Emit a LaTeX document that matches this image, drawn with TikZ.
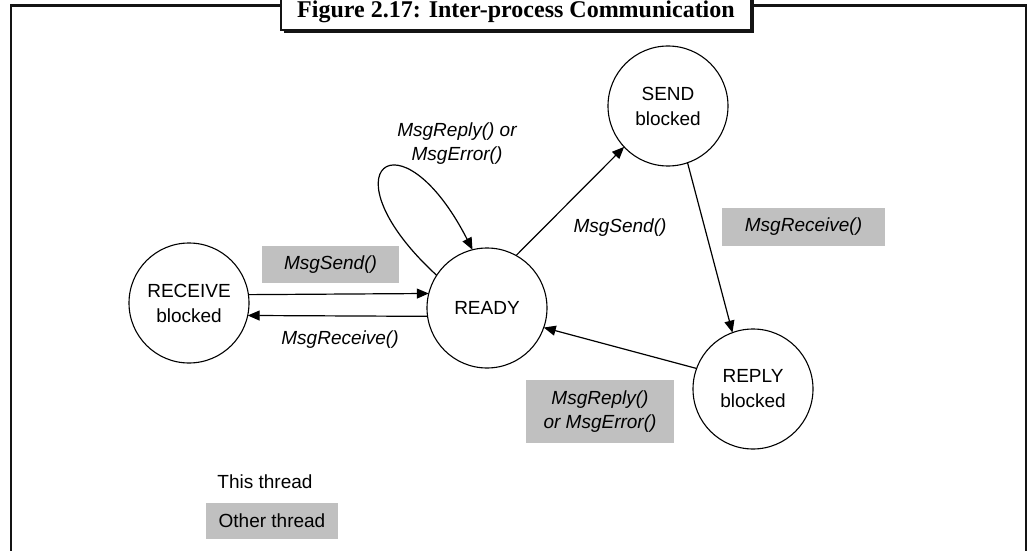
\documentclass[tikz,border=0pt]{standalone}
\usepackage{fontspec}
\setmainfont{Liberation Sans}
\newfontfamily\captionserif{Liberation Serif}
\usetikzlibrary{arrows.meta}
\definecolor{othergray}{RGB}{192,192,192}
\definecolor{framegray}{RGB}{20,20,20}

\begin{document}
\begin{tikzpicture}[x=1pt,y=-1pt,
  state/.style={circle,draw,line width=1.1pt,minimum size=120pt,inner sep=0pt,
    outer sep=0pt,align=center,font=\fontsize{19}{25}\selectfont},
  call/.style={font=\fontsize{19}{24}\selectfont\itshape,align=center,inner sep=0pt},
  othercall/.style={call,fill=othergray},
  trans/.style={line width=1.2pt,-{Triangle[length=12pt,width=10pt]}},
  framing/.style={draw=framegray,line width=2.6pt}
]
\useasboundingbox (0,0) rectangle (1029,551);
\clip (0,0) rectangle (1029,551);

% outer frame, open at the bottom
\draw[framing] (11,560) -- (11,5.5) -- (1026,5.5) -- (1026,560);

% caption tab
\filldraw[framing,fill=white] (281,-10) rectangle (751,30);
\draw[draw=framegray,line width=1.2pt] (283.5,32) -- (753,32) -- (753,-10);
\node[anchor=base,font=\captionserif\bfseries\fontsize{24}{28}\selectfont,inner sep=0pt]
  (caption) at (516,18) {Figure 2.17: Inter-process Communication};

% states
\node[state] (recv)  at (189,303) {RECEIVE\\blocked};
\node[state] (ready) at (487,308) {READY};
\node[state] (send)  at (668,106) {SEND\\blocked};
\node[state] (reply) at (753,389) {REPLY\\blocked};

% transitions
\draw[trans] (recv.8.6) -- (ready.166.5);
\draw[trans] (ready.-172.3) -- (recv.-12.5);
\draw[trans] (ready.61.4) -- (send.223.6);
\draw[trans] (send.-71.6) -- (reply.110.4);
\draw[trans] (reply.160.1) -- (ready.-19.7);
\draw[trans] (ready.147) .. controls (322,170) and (400,108) .. (ready.104);

% kernel calls made by this thread
\node[call] (lreplyself) at (457,144) {MsgReply() or\\MsgError()};
\node[call] (lsend)      at (620,228) {MsgSend()};
\node[call] (lrecv)      at (340,340) {MsgReceive()};

% kernel calls made by another thread
\node[othercall,minimum width=137pt,minimum height=37pt] (osend) at (330.5,264.5) {MsgSend()};
\node[othercall,minimum width=163pt,minimum height=38pt] (orecv) at (803.5,227) {MsgReceive()};
\node[othercall,minimum width=148pt,minimum height=63pt] (oreply) at (600,411.5) {MsgReply()\\or MsgError()};

% legend
\node[font=\fontsize{19}{24}\selectfont,inner sep=0pt] (kthis) at (265,482) {This thread};
\node[fill=othergray,minimum width=132pt,minimum height=36pt,inner sep=0pt,
  font=\fontsize{19}{24}\selectfont] (kother) at (272,521) {Other thread};
\end{tikzpicture}
\end{document}
